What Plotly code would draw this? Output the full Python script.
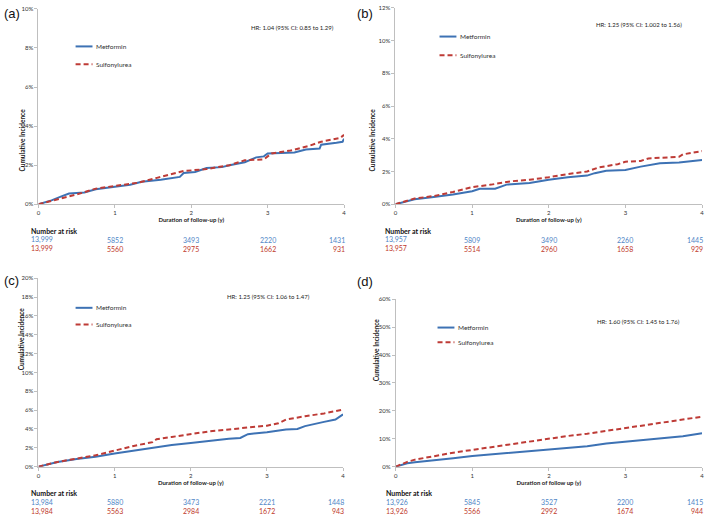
import plotly.graph_objects as go

# ---- data (years, cumulative incidence as fraction) ----
# panel (a)
a_met_t = [0, 0.17, 0.3, 0.4, 0.6, 0.75, 1.0, 1.2, 1.35, 1.6, 1.85, 1.9, 2.05, 2.2, 2.4, 2.5, 2.7, 2.85, 2.95, 3.0, 3.35, 3.5, 3.68, 3.7, 3.9, 3.98, 4.0]
a_met_y = [0, 0.002, 0.004, 0.0055, 0.006, 0.0077, 0.009, 0.010, 0.0115, 0.0125, 0.014, 0.016, 0.0165, 0.0185, 0.019, 0.020, 0.0215, 0.024, 0.0245, 0.026, 0.0265, 0.028, 0.0285, 0.0305, 0.0315, 0.032, 0.0335]
a_sul_t = [0, 0.3, 0.5, 0.75, 1.0, 1.3, 1.55, 1.9, 2.2, 2.5, 2.7, 2.95, 3.05, 3.3, 3.55, 3.7, 3.95, 4.0]
a_sul_y = [0, 0.003, 0.005, 0.008, 0.0095, 0.011, 0.0135, 0.017, 0.018, 0.020, 0.0225, 0.023, 0.026, 0.0275, 0.030, 0.032, 0.034, 0.0355]

# panel (b)
b_met_t = [0, 0.25, 0.5, 0.75, 1.0, 1.1, 1.3, 1.45, 1.75, 2.0, 2.25, 2.5, 2.6, 2.75, 3.0, 3.2, 3.45, 3.7, 4.0]
b_met_y = [0, 0.003, 0.0045, 0.006, 0.008, 0.0095, 0.0095, 0.012, 0.013, 0.015, 0.0165, 0.0175, 0.019, 0.0205, 0.021, 0.023, 0.025, 0.0255, 0.027]
b_sul_t = [0, 0.25, 0.5, 0.75, 1.0, 1.25, 1.5, 1.75, 2.0, 2.25, 2.5, 2.65, 2.9, 3.0, 3.2, 3.3, 3.7, 3.75, 4.0]
b_sul_y = [0, 0.0035, 0.005, 0.0075, 0.0105, 0.012, 0.014, 0.015, 0.0165, 0.0185, 0.020, 0.0225, 0.0245, 0.026, 0.0265, 0.028, 0.029, 0.0305, 0.0325]

# panel (c)
c_met_t = [0, 0.25, 0.5, 0.75, 1.0, 1.25, 1.5, 1.75, 2.0, 2.25, 2.5, 2.65, 2.75, 3.0, 3.25, 3.4, 3.5, 3.75, 3.9, 4.0]
c_met_y = [0, 0.005, 0.008, 0.0105, 0.014, 0.017, 0.0195, 0.023, 0.025, 0.0275, 0.0295, 0.0305, 0.0345, 0.0365, 0.0395, 0.040, 0.043, 0.0475, 0.050, 0.0555]
c_sul_t = [0, 0.25, 0.5, 0.75, 1.0, 1.25, 1.5, 1.55, 1.75, 2.0, 2.25, 2.5, 2.75, 3.0, 3.15, 3.25, 3.5, 3.75, 4.0]
c_sul_y = [0, 0.005, 0.0085, 0.012, 0.017, 0.022, 0.026, 0.029, 0.0315, 0.0345, 0.0375, 0.0395, 0.0415, 0.0435, 0.046, 0.050, 0.0535, 0.0565, 0.0605]

# panel (d)
d_met_t = [0, 0.15, 0.25, 0.5, 0.75, 1.0, 1.25, 1.5, 1.75, 2.0, 2.25, 2.5, 2.75, 3.0, 3.25, 3.5, 3.75, 4.0]
d_met_y = [0, 0.012, 0.016, 0.022, 0.030, 0.038, 0.044, 0.050, 0.056, 0.060, 0.066, 0.073, 0.083, 0.089, 0.095, 0.102, 0.109, 0.120]
d_sul_t = [0, 0.15, 0.25, 0.5, 0.75, 1.0, 1.25, 1.5, 1.75, 2.0, 2.25, 2.5, 2.75, 3.0, 3.25, 3.5, 3.75, 4.0]
d_sul_y = [0, 0.017, 0.025, 0.038, 0.050, 0.060, 0.070, 0.081, 0.091, 0.101, 0.110, 0.118, 0.128, 0.138, 0.148, 0.158, 0.168, 0.179]

panel_labels = ["(a)", "(b)", "(c)", "(d)"]
hr_texts = ["HR: 1.04 (95% CI: 0.85 to 1.29)", "HR: 1.25 (95% CI: 1.002 to 1.56)",
            "HR: 1.25 (95% CI: 1.06 to 1.47)", "HR: 1.60 (95% CI: 1.45 to 1.76)"]
y_max = [0.10, 0.12, 0.20, 0.60]
y_dtick = [0.02, 0.02, 0.02, 0.10]
x_titles = ["Duration of follow-up (y)", "Duration of follow-up (y)",
            "Duration of follow-up (y)", "Duration of follow up (y)"]
risk_times = [0, 1, 2, 3, 4]
risk_met = [["13,999", "5852", "3493", "2220", "1431"],
            ["13,957", "5809", "3490", "2260", "1445"],
            ["13,984", "5880", "3473", "2221", "1448"],
            ["13,926", "5845", "3527", "2200", "1415"]]
risk_sul = [["13,999", "5560", "2975", "1662", "931"],
            ["13,957", "5514", "2960", "1658", "929"],
            ["13,984", "5563", "2984", "1672", "943"],
            ["13,926", "5566", "2992", "1674", "944"]]

series = [(a_met_t, a_met_y, a_sul_t, a_sul_y),
          (b_met_t, b_met_y, b_sul_t, b_sul_y),
          (c_met_t, c_met_y, c_sul_t, c_sul_y),
          (d_met_t, d_met_y, d_sul_t, d_sul_y)]

W, H = 709, 516
BLUE = "#3d72b4"
RED = "#be3b36"
NUM_BLUE = "#4f86c6"
NUM_RED = "#c0392b"
FONT = "Lato"
AXIS = "#bfbfbf"

# pixel layout for each panel: plot box (x0, x1, ybottom, ytop) etc.
boxes = [(36.7, 344, 203, 5), (395.7, 704, 203, 4), (36.7, 343, 469, 278), (396, 704, 469, 299.3)]
hr_pos = [(292, 24), (641, 21), (268, 297), (640, 322)]
legend_pos = [(74, 43, 61), (440, 33, 52), (74, 308, 325), (438, 328, 343)]
label_pos = [(0, 10), (355, 10), (0, 280), (355, 281)]
risk_left = [27, 383, 27, 384]
ytitle_x = [15, 373, 15, 377]

def px(x):
    return x / W

def py(y):
    return 1 - y / H

fig = go.Figure()
annotations = []
shapes = []

for i in range(4):
    n = "" if i == 0 else str(i + 1)
    x0, x1, yb, yt = boxes[i]
    met_t, met_y, sul_t, sul_y = series[i]
    fig.add_trace(go.Scatter(x=met_t, y=met_y, mode="lines", xaxis="x" + n, yaxis="y" + n,
                             line=dict(color=BLUE, width=2), showlegend=False, hoverinfo="skip"))
    fig.add_trace(go.Scatter(x=sul_t, y=sul_y, mode="lines", xaxis="x" + n, yaxis="y" + n,
                             line=dict(color=RED, width=2, dash="5px,3px"), showlegend=False, hoverinfo="skip"))

    fig.update_layout(**{
        "xaxis" + n: dict(domain=[px(x0), px(x1)], anchor="y" + n, range=[0, 4], dtick=1,
                          showgrid=False, zeroline=False, showline=True, linecolor=AXIS, linewidth=1,
                          ticks="outside", ticklen=3, tickcolor=AXIS,
                          tickfont=dict(size=6, color="#333", family=FONT),
                          title=dict(text="<b>" + x_titles[i] + "</b>", standoff=2,
                                     font=dict(size=6, color="#222", family=FONT))),
        "yaxis" + n: dict(domain=[py(yb), py(yt)], anchor="x" + n, range=[0, y_max[i]], dtick=y_dtick[i],
                          tickformat=".0%", showgrid=False, zeroline=False, showline=True,
                          linecolor=AXIS, linewidth=1, ticks="outside", ticklen=3, tickcolor=AXIS,
                          tickfont=dict(size=6, color="#333", family=FONT)),
    })

    # y axis title
    annotations.append(dict(text="<b>Cumulative Incidence</b>", textangle=-90, xref="paper", yref="paper",
                            x=px(ytitle_x[i]), y=py((yb + yt) / 2), showarrow=False,
                            font=dict(size=6.5, color="#222", family=FONT)))
    # panel label
    lx, ly = label_pos[i]
    annotations.append(dict(text=panel_labels[i], xref="paper", yref="paper", x=px(lx), y=py(ly),
                            xanchor="left", yanchor="middle", showarrow=False,
                            font=dict(size=13, color="#111", family="Liberation Sans")))
    # HR text
    hx, hy = hr_pos[i]
    annotations.append(dict(text=hr_texts[i], xref="paper", yref="paper", x=px(hx), y=py(hy),
                            xanchor="center", yanchor="middle", showarrow=False,
                            font=dict(size=6, color="#222", family=FONT)))
    # legend samples
    gx, gy1, gy2 = legend_pos[i]
    shapes.append(dict(type="line", xref="paper", yref="paper", x0=px(gx), x1=px(gx + 17),
                       y0=py(gy1), y1=py(gy1), line=dict(color=BLUE, width=2)))
    shapes.append(dict(type="line", xref="paper", yref="paper", x0=px(gx), x1=px(gx + 17),
                       y0=py(gy2), y1=py(gy2), line=dict(color=RED, width=2, dash="5px,3px")))
    for txt, gy in (("Metformin", gy1), ("Sulfonylurea", gy2)):
        annotations.append(dict(text=txt, xref="paper", yref="paper", x=px(gx + 19), y=py(gy),
                                xanchor="left", yanchor="middle", showarrow=False,
                                font=dict(size=6.5, color="#333", family=FONT)))
    # number at risk
    base = yb + 27
    annotations.append(dict(text="<b>Number at risk</b>", xref="paper", yref="paper",
                            x=px(risk_left[i]), y=py(base), xanchor="left", yanchor="middle",
                            showarrow=False, font=dict(size=7, color="#111", family=FONT)))
    for row, vals, col in ((1, risk_met[i], NUM_BLUE), (2, risk_sul[i], NUM_RED)):
        for j, (t, v) in enumerate(zip(risk_times, vals)):
            if j == 0:
                anchor, shift = "left", risk_left[i] - x0
            elif j == len(vals) - 1:
                anchor, shift = "right", 3
            else:
                anchor, shift = "center", 0
            annotations.append(dict(text=v, xref="x" + n, yref="paper", x=t, y=py(base + 9 * row),
                                    xanchor=anchor, xshift=shift, yanchor="middle", showarrow=False,
                                    font=dict(size=7, color=col, family=FONT)))

fig.update_layout(width=W, height=H, margin=dict(l=0, r=0, t=0, b=0),
                  paper_bgcolor="white", plot_bgcolor="white",
                  annotations=annotations, shapes=shapes, showlegend=False)

# drop the default page margin so the figure sits at the window's corner
fig.write_html("out.html", config={"displayModeBar": False},
               post_script="document.body.style.margin='0';document.body.style.overflow='hidden';")
